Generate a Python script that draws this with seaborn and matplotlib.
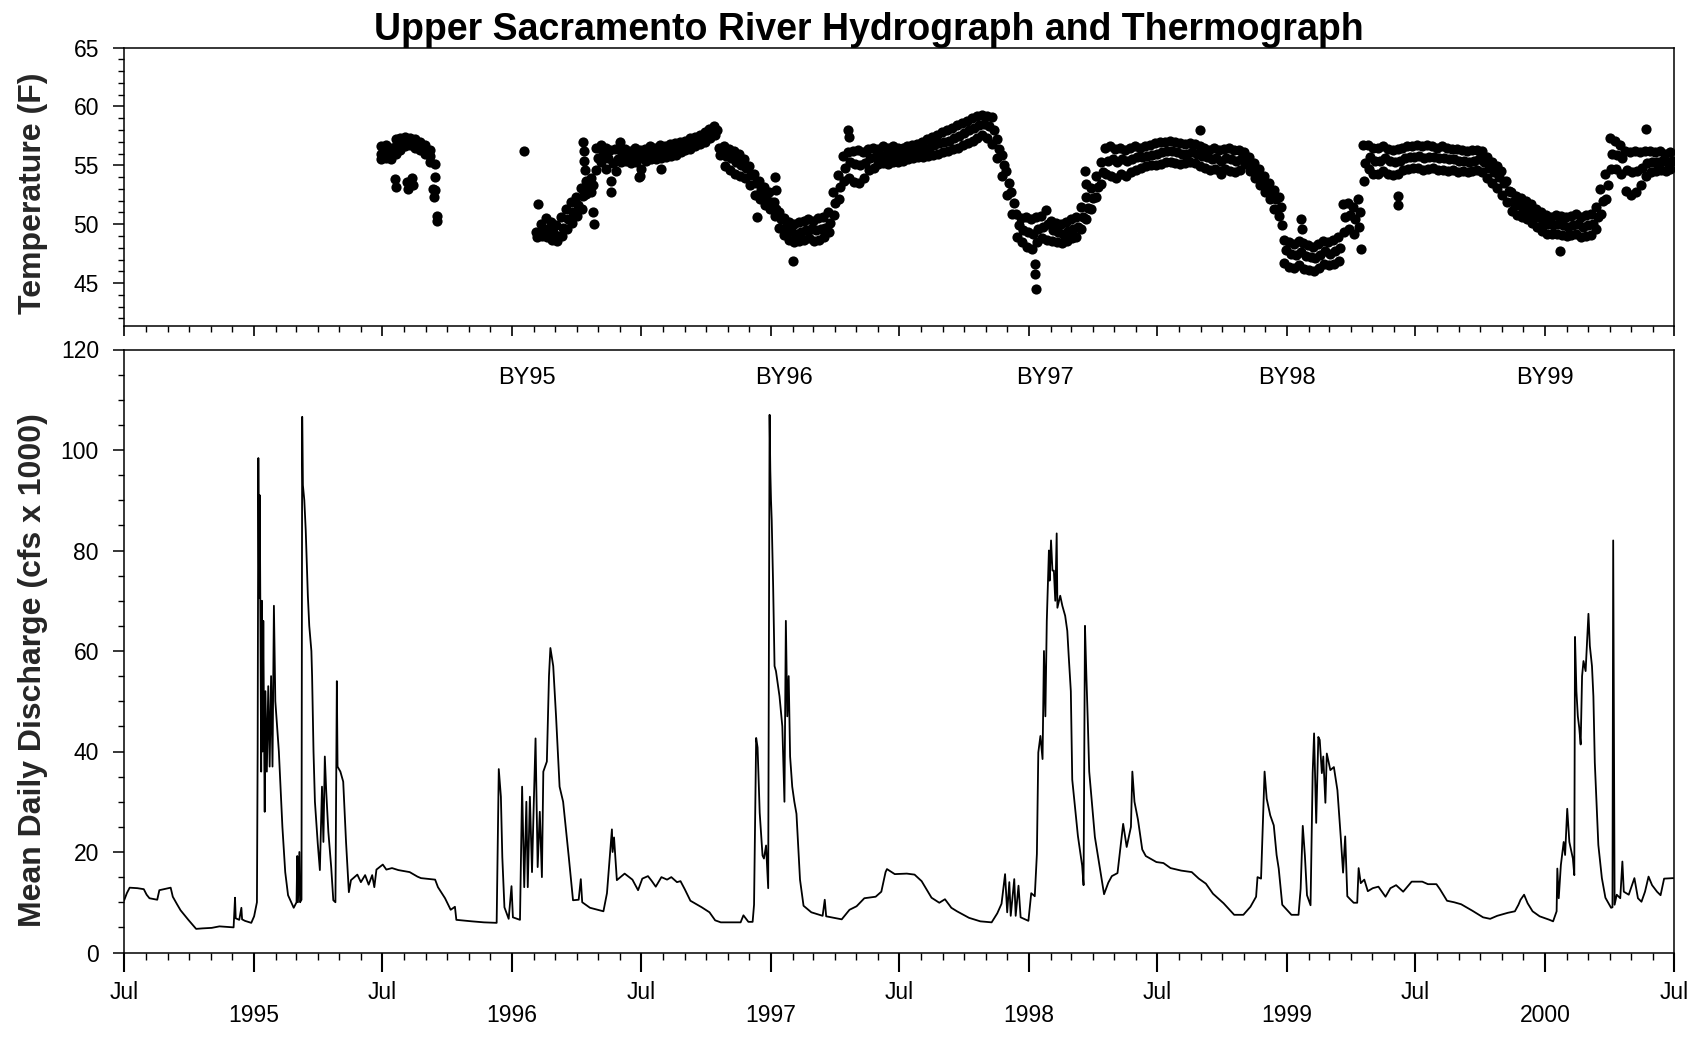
import matplotlib
matplotlib.use("Agg")
import matplotlib.pyplot as plt
import matplotlib.dates as mdates
import matplotlib.ticker as mticker
import pandas as pd
import seaborn as sns

# ---------------------------------------------------------------- data
# Mean daily discharge (cfs x 1000): vertices read off the hydrograph, by water year
q1995_dates = ["1994-07-01", "1994-07-05", "1994-07-09", "1994-07-20", "1994-07-29", "1994-08-02",
               "1994-08-06", "1994-08-17", "1994-08-20", "1994-09-05", "1994-09-08", "1994-09-14",
               "1994-09-19", "1994-09-30", "1994-10-11", "1994-10-20", "1994-11-02", "1994-11-13",
               "1994-11-24", "1994-12-03", "1994-12-05", "1994-12-06", "1994-12-11", "1994-12-14",
               "1994-12-15", "1994-12-19", "1994-12-28", "1995-01-01", "1995-01-05", "1995-01-06",
               "1995-01-07", "1995-01-08", "1995-01-09", "1995-01-10", "1995-01-11", "1995-01-12",
               "1995-01-13", "1995-01-14", "1995-01-15", "1995-01-16", "1995-01-17", "1995-01-19",
               "1995-01-21", "1995-01-23", "1995-01-25", "1995-01-27", "1995-01-29", "1995-01-31",
               "1995-02-03", "1995-02-05", "1995-02-10", "1995-02-14", "1995-02-18", "1995-02-26",
               "1995-03-02", "1995-03-03", "1995-03-04", "1995-03-06", "1995-03-07", "1995-03-09",
               "1995-03-10", "1995-03-11", "1995-03-13", "1995-03-15", "1995-03-18", "1995-03-20",
               "1995-03-23", "1995-03-24", "1995-03-26", "1995-03-28", "1995-04-01", "1995-04-04",
               "1995-04-07", "1995-04-09", "1995-04-11", "1995-04-13", "1995-04-16", "1995-04-20",
               "1995-04-23", "1995-04-26", "1995-04-28", "1995-04-29", "1995-05-03", "1995-05-07",
               "1995-05-11", "1995-05-15", "1995-05-18", "1995-05-27", "1995-06-01", "1995-06-07",
               "1995-06-12", "1995-06-17", "1995-06-20", "1995-06-23"]
q1995_vals = [10.3, 11.8, 12.9, 12.8, 12.6, 11.5, 10.8, 10.5, 12.4, 12.9, 11.1, 9.6,
              8.4, 6.5, 4.7, 4.8, 4.9, 5.2, 5.1, 5.0, 10.9, 6.8, 6.5, 8.9,
              6.6, 6.3, 5.9, 7.2, 10.0, 40.0, 98.4, 70.5, 91.0, 62.0, 36.0, 70.0,
              40.0, 66.0, 45.0, 28.0, 52.0, 36.0, 53.0, 37.0, 55.0, 37.0, 69.0, 50.0,
              44.0, 40.0, 25.0, 16.0, 11.4, 8.9, 10.0, 19.2, 10.0, 20.0, 10.0, 10.5,
              106.6, 93.0, 90.0, 84.0, 71.0, 65.0, 60.0, 55.0, 40.0, 30.0, 21.7, 16.4,
              33.0, 22.0, 39.0, 32.0, 24.0, 17.0, 10.4, 10.0, 54.0, 37.0, 36.0, 34.0,
              22.0, 12.0, 14.4, 15.5, 14.0, 15.4, 13.5, 15.4, 13.0, 16.5]

q1996_dates = ["1995-07-02", "1995-07-07", "1995-07-15", "1995-07-24", "1995-08-09", "1995-08-20",
               "1995-08-25", "1995-09-14", "1995-09-18", "1995-09-28", "1995-10-06", "1995-10-12",
               "1995-10-14", "1995-11-05", "1995-11-22", "1995-12-10", "1995-12-13", "1995-12-16",
               "1995-12-18", "1995-12-21", "1995-12-27", "1995-12-31", "1996-01-02", "1996-01-12",
               "1996-01-15", "1996-01-18", "1996-01-21", "1996-01-23", "1996-01-26", "1996-01-29",
               "1996-01-31", "1996-02-03", "1996-02-06", "1996-02-09", "1996-02-12", "1996-02-14",
               "1996-02-19", "1996-02-22", "1996-02-24", "1996-02-28", "1996-03-03", "1996-03-08",
               "1996-03-13", "1996-03-21", "1996-03-27", "1996-04-04", "1996-04-07", "1996-04-09",
               "1996-04-20", "1996-05-09", "1996-05-14", "1996-05-21", "1996-05-22", "1996-05-24",
               "1996-05-28", "1996-06-08", "1996-06-19", "1996-06-27"]
q1996_vals = [17.5, 16.5, 16.8, 16.4, 16.0, 15.1, 14.8, 14.5, 13.0, 10.8, 8.5, 9.1,
              6.5, 6.2, 6.0, 5.9, 36.5, 31.0, 19.0, 9.0, 6.7, 13.2, 7.0, 6.5,
              33.0, 13.0, 30.0, 13.0, 31.0, 16.0, 27.0, 42.6, 17.0, 28.0, 15.0, 36.0,
              38.0, 55.0, 60.6, 57.0, 47.0, 33.0, 30.0, 19.0, 10.4, 10.5, 14.6, 10.0,
              8.9, 8.2, 11.8, 24.5, 20.0, 22.9, 14.4, 15.7, 14.5, 12.4]

q1997_dates = ["1996-07-03", "1996-07-11", "1996-07-16", "1996-07-22", "1996-07-30", "1996-08-07",
               "1996-08-13", "1996-08-21", "1996-08-26", "1996-09-01", "1996-09-09", "1996-09-25",
               "1996-10-06", "1996-10-14", "1996-10-22", "1996-11-19", "1996-11-23", "1996-11-30",
               "1996-12-06", "1996-12-08", "1996-12-11", "1996-12-13", "1996-12-16", "1996-12-20",
               "1996-12-22", "1996-12-25", "1996-12-28", "1996-12-30", "1996-12-31", "1997-01-01",
               "1997-01-02", "1997-01-04", "1997-01-06", "1997-01-08", "1997-01-13", "1997-01-17",
               "1997-01-20", "1997-01-22", "1997-01-24", "1997-01-26", "1997-01-28", "1997-01-31",
               "1997-02-03", "1997-02-06", "1997-02-11", "1997-02-16", "1997-02-27", "1997-03-15",
               "1997-03-18", "1997-03-20", "1997-04-11", "1997-04-22", "1997-05-02", "1997-05-13",
               "1997-05-29", "1997-06-06", "1997-06-12", "1997-06-14", "1997-06-25"]
q1997_vals = [14.7, 15.2, 14.3, 13.1, 15.0, 14.5, 15.0, 14.0, 14.2, 12.6, 10.3, 9.0,
              8.0, 6.4, 6.0, 6.0, 7.4, 6.1, 6.1, 9.5, 42.7, 40.8, 27.8, 19.3,
              18.7, 21.3, 12.8, 107.0, 96.0, 90.0, 86.0, 73.0, 57.0, 56.0, 51.0, 45.0,
              30.0, 66.0, 47.0, 55.0, 39.0, 33.0, 30.0, 27.6, 14.5, 9.3, 8.0, 7.3,
              10.5, 7.2, 6.6, 8.5, 9.2, 10.8, 11.1, 12.1, 16.0, 16.6, 15.6]

q1998_dates = ["1997-07-12", "1997-07-23", "1997-08-02", "1997-08-16", "1997-08-27", "1997-09-04",
               "1997-09-13", "1997-09-21", "1997-10-08", "1997-10-24", "1997-11-09", "1997-11-17",
               "1997-11-23", "1997-11-28", "1997-12-01", "1997-12-04", "1997-12-06", "1997-12-11",
               "1997-12-13", "1997-12-17", "1997-12-20", "1997-12-31", "1998-01-04", "1998-01-09",
               "1998-01-12", "1998-01-14", "1998-01-17", "1998-01-20", "1998-01-22", "1998-01-24",
               "1998-01-26", "1998-01-29", "1998-01-30", "1998-02-01", "1998-02-03", "1998-02-05",
               "1998-02-07", "1998-02-09", "1998-02-10", "1998-02-14", "1998-02-17", "1998-02-21",
               "1998-02-24", "1998-02-26", "1998-03-01", "1998-03-03", "1998-03-11", "1998-03-17",
               "1998-03-19", "1998-03-21", "1998-03-23", "1998-03-25", "1998-03-27", "1998-04-04",
               "1998-04-12", "1998-04-17", "1998-04-23", "1998-04-28", "1998-05-06", "1998-05-14",
               "1998-05-19", "1998-05-25", "1998-05-27", "1998-05-30", "1998-06-04", "1998-06-10",
               "1998-06-15", "1998-06-30"]
q1998_vals = [15.7, 15.5, 14.2, 10.9, 9.9, 10.6, 8.9, 8.2, 6.9, 6.2, 6.0, 7.8,
              9.7, 15.6, 8.0, 14.0, 7.3, 14.6, 7.3, 13.3, 7.0, 6.3, 11.8, 11.2,
              19.6, 39.8, 43.1, 38.5, 60.0, 47.0, 66.0, 80.0, 74.0, 82.0, 76.0, 76.0,
              70.0, 83.4, 68.6, 71.0, 69.0, 67.0, 64.0, 59.0, 52.0, 34.4, 23.2, 17.3,
              13.4, 65.0, 55.0, 46.0, 36.0, 23.0, 16.0, 11.6, 13.9, 15.2, 15.8, 25.6,
              21.0, 25.0, 36.0, 30.0, 26.4, 20.5, 19.2, 18.0]

q1999_dates = ["1998-07-10", "1998-07-20", "1998-08-04", "1998-08-19", "1998-08-29", "1998-09-08",
               "1998-09-18", "1998-10-03", "1998-10-18", "1998-10-31", "1998-11-10", "1998-11-18",
               "1998-11-20", "1998-11-25", "1998-11-30", "1998-12-03", "1998-12-05", "1998-12-08",
               "1998-12-13", "1998-12-17", "1998-12-20", "1998-12-25", "1999-01-07", "1999-01-17",
               "1999-01-20", "1999-01-23", "1999-01-26", "1999-01-29", "1999-02-03", "1999-02-06",
               "1999-02-08", "1999-02-11", "1999-02-14", "1999-02-16", "1999-02-19", "1999-02-21",
               "1999-02-24", "1999-02-26", "1999-03-03", "1999-03-08", "1999-03-13", "1999-03-18",
               "1999-03-21", "1999-03-24", "1999-03-27", "1999-03-31", "1999-04-05", "1999-04-10",
               "1999-04-12", "1999-04-15", "1999-04-20", "1999-04-25", "1999-05-02", "1999-05-10",
               "1999-05-20", "1999-05-27", "1999-06-04", "1999-06-14", "1999-06-26"]
q1999_vals = [17.8, 16.8, 16.3, 16.0, 14.7, 13.7, 11.7, 9.8, 7.5, 7.5, 9.1, 11.1,
              15.0, 14.7, 36.0, 30.6, 29.3, 27.3, 25.3, 19.4, 16.7, 9.5, 7.5, 7.5,
              12.7, 25.2, 19.3, 11.4, 9.4, 35.7, 43.6, 25.8, 42.9, 42.3, 35.7, 39.0,
              29.8, 39.6, 36.3, 36.9, 32.3, 22.4, 15.9, 23.1, 11.2, 10.6, 9.9, 9.9,
              16.8, 13.8, 14.5, 12.2, 12.8, 13.1, 11.1, 12.8, 13.4, 12.1, 14.1]

q2000_dates = ["1999-07-11", "1999-07-19", "1999-07-31", "1999-08-05", "1999-08-15", "1999-08-25",
               "1999-09-04", "1999-09-20", "1999-10-05", "1999-10-15", "1999-10-25", "1999-11-09",
               "1999-11-19", "1999-11-24", "1999-11-27", "1999-12-02", "1999-12-07", "1999-12-14",
               "1999-12-24", "2000-01-07", "2000-01-12", "2000-01-17", "2000-01-18", "2000-01-20",
               "2000-01-23", "2000-01-27", "2000-01-29", "2000-02-01", "2000-02-04", "2000-02-06",
               "2000-02-09", "2000-02-11", "2000-02-12", "2000-02-14", "2000-02-16", "2000-02-18",
               "2000-02-20", "2000-02-22", "2000-02-24", "2000-02-27", "2000-03-02", "2000-03-04",
               "2000-03-07", "2000-03-09", "2000-03-11", "2000-03-16", "2000-03-21", "2000-03-26",
               "2000-04-03", "2000-04-05", "2000-04-06", "2000-04-08", "2000-04-11", "2000-04-16",
               "2000-04-19", "2000-04-21", "2000-04-28", "2000-05-06", "2000-05-11", "2000-05-16",
               "2000-05-21", "2000-05-26", "2000-05-31", "2000-06-07", "2000-06-12", "2000-06-17",
               "2000-06-30"]
q2000_vals = [14.1, 13.6, 13.6, 12.6, 10.3, 10.0, 9.6, 8.3, 7.0, 6.7, 7.3, 7.9,
              8.2, 9.5, 10.5, 11.5, 9.8, 8.2, 7.2, 6.5, 6.2, 8.2, 16.7, 10.8,
              17.4, 22.0, 19.4, 28.6, 22.0, 20.7, 18.7, 15.4, 62.8, 52.0, 47.0, 44.7,
              41.4, 55.0, 58.0, 56.0, 67.4, 61.0, 57.0, 51.0, 37.8, 21.4, 14.8, 10.9,
              8.9, 9.0, 82.0, 9.5, 11.5, 10.8, 18.1, 12.1, 11.5, 14.8, 10.8, 10.1,
              12.1, 15.1, 13.4, 12.1, 11.4, 14.7, 14.8]

# Water temperature (F): weekly upper / middle / lower dot rows of the band
t1995_start = "1995-06-29"
t1995_hi = [56.6, 56.7, 56.5, 57.2, 57.3, 57.4, 57.3, 57.2, 57.0, 56.7, 56.3, 55.1]
t1995_mid = [56.0, 56.2, 56.0, 56.6, 56.8, 57.0, 57.0, 56.8, 56.7, 56.4, 55.8, 54.0]
t1995_lo = [55.5, 55.6, 55.5, 56.0, 56.3, 56.6, 56.7, 56.5, 56.3, 56.0, 55.3, 52.9]

t_hi_start = "1996-02-04"
t_mid_start = "1996-02-07"
t_lo_start = "1996-02-05"
t_hi = [49.3, 50.0, 50.5, 50.2, 49.9, 50.6, 51.3, 51.9, 52.3, 53.1,
        53.7, 53.9, 56.5, 56.7, 56.5, 56.3, 56.4, 56.3, 56.4, 56.2,
        56.5, 56.3, 56.4, 56.6, 56.5, 56.7, 56.6, 56.8, 56.9, 57.0,
        57.1, 57.3, 57.4, 57.6, 57.8, 58.1, 58.3, 56.5, 56.6, 56.4,
        56.2, 56.0, 55.5, 54.9, 54.3, 53.7, 53.2, 52.7, 51.9, 51.0,
        50.5, 50.2, 50.0, 50.2, 50.3, 50.4, 50.3, 50.5, 50.6, 51.0,
        52.7, 54.2, 55.8, 56.1, 56.2, 56.3, 56.1, 56.4, 56.5, 56.4,
        56.6, 56.5, 56.6, 56.5, 56.5, 56.6, 56.7, 56.8, 57.0, 57.2,
        57.4, 57.6, 57.8, 58.0, 58.2, 58.4, 58.6, 58.8, 59.0, 59.2,
        59.3, 59.2, 59.1, 57.2, 55.9, 54.5, 52.7, 50.9, 50.5, 50.6,
        50.4, 50.6, 50.7, 51.2, 50.3, 50.1, 50.0, 50.2, 50.4, 50.6,
        51.5, 52.3, 53.1, 54.1, 55.3, 56.5, 56.6, 56.4, 56.5, 56.3,
        56.5, 56.6, 56.5, 56.6, 56.7, 56.9, 57.0, 57.0, 57.1, 57.0,
        56.9, 56.8, 56.9, 56.8, 56.6, 56.5, 56.3, 56.5, 56.3, 56.4,
        56.5, 56.3, 56.3, 56.1, 55.7, 55.2, 54.7, 54.1, 53.5, 52.9,
        52.3, 48.7, 48.5, 48.3, 48.6, 48.4, 48.2, 48.1, 48.3, 48.6,
        48.5, 48.7, 48.9, 51.7, 51.8, 51.5, 52.1, 56.7, 56.7, 56.5,
        56.5, 56.6, 56.4, 56.3, 56.4, 56.5, 56.6, 56.6, 56.7, 56.6,
        56.7, 56.6, 56.5, 56.6, 56.5, 56.4, 56.4, 56.3, 56.2, 56.3,
        56.3, 56.2, 55.7, 55.3, 54.9, 54.5, 53.7, 52.7, 52.4, 52.2,
        52.0, 51.7, 51.3, 51.0, 50.8, 50.6, 50.8, 50.7, 50.6, 50.7,
        50.9, 50.6, 50.8, 50.9, 51.5, 53.0, 54.3, 57.3, 57.1, 56.7,
        56.2, 56.1, 56.2, 56.1, 56.2, 56.2, 56.1, 56.2, 56.0, 56.1]
t_mid = [49.1, 49.4, 49.6, 49.3, 49.0, 49.7, 50.4, 51.0, 51.6, 52.4,
         53.2, 53.3, 55.6, 56.0, 55.6, 55.2, 55.5, 55.8, 55.9, 55.7,
         55.9, 55.6, 55.9, 56.0, 56.0, 56.1, 56.2, 56.3, 56.4, 56.5,
         56.7, 56.8, 57.0, 57.2, 57.4, 57.7, 58.0, 56.2, 55.8, 55.6,
         55.3, 55.0, 54.8, 54.2, 53.5, 52.9, 52.4, 51.9, 51.3, 50.4,
         49.8, 49.4, 49.2, 49.3, 49.5, 49.6, 49.5, 49.6, 49.7, 50.1,
         51.8, 53.2, 54.8, 55.3, 55.1, 55.0, 55.2, 55.6, 55.7, 55.8,
         55.9, 55.8, 56.0, 55.9, 56.0, 56.1, 56.2, 56.3, 56.4, 56.5,
         56.7, 56.9, 57.0, 57.1, 57.3, 57.5, 57.7, 58.0, 58.2, 58.4,
         58.5, 58.3, 58.0, 56.4, 55.0, 53.5, 51.8, 49.9, 49.5, 49.3,
         49.2, 49.6, 49.8, 50.0, 49.5, 49.3, 49.2, 49.4, 49.6, 49.8,
         50.6, 51.4, 52.2, 53.2, 54.4, 55.4, 55.5, 55.3, 55.5, 55.4,
         55.5, 55.7, 55.7, 55.8, 55.9, 56.0, 56.1, 56.2, 56.2, 56.1,
         56.0, 56.0, 56.1, 56.0, 55.8, 55.7, 55.5, 55.6, 55.4, 55.6,
         55.5, 55.4, 55.5, 55.6, 55.1, 54.6, 54.0, 53.4, 52.8, 52.1,
         51.5, 47.8, 47.5, 47.4, 47.6, 47.3, 47.2, 47.1, 47.4, 47.7,
         47.5, 47.7, 48.0, 50.6, 50.8, 50.4, 51.0, 55.2, 55.7, 55.4,
         55.4, 55.6, 55.4, 55.3, 55.4, 55.6, 55.7, 55.7, 55.8, 55.6,
         55.7, 55.7, 55.6, 55.6, 55.5, 55.5, 55.4, 55.4, 55.3, 55.4,
         55.5, 55.3, 54.8, 54.4, 54.0, 53.5, 52.8, 51.9, 51.6, 51.4,
         51.2, 50.9, 50.6, 50.2, 50.0, 49.9, 50.0, 49.9, 49.8, 49.9,
         50.0, 49.8, 49.9, 50.0, 50.6, 52.0, 53.3, 56.0, 55.9, 55.6,
         54.6, 54.4, 54.5, 54.8, 55.2, 55.3, 55.3, 55.4, 55.3, 55.4]
t_lo = [48.9, 49.0, 48.9, 48.7, 48.6, 49.0, 49.6, 50.1, 50.7, 51.3,
        52.6, 52.7, 54.6, 55.3, 54.7, 53.7, 54.5, 55.3, 55.4, 55.2,
        55.3, 54.7, 55.4, 55.5, 55.5, 55.6, 55.7, 55.8, 55.9, 56.1,
        56.3, 56.4, 56.6, 56.8, 57.0, 57.3, 57.6, 55.9, 54.9, 54.6,
        54.3, 54.1, 53.9, 53.3, 52.5, 52.1, 51.6, 51.3, 50.7, 49.7,
        49.1, 48.7, 48.5, 48.6, 48.7, 48.8, 48.6, 48.7, 48.9, 49.3,
        50.8, 52.1, 53.7, 53.9, 53.6, 53.5, 53.9, 54.6, 54.8, 55.1,
        55.2, 55.1, 55.3, 55.3, 55.4, 55.5, 55.6, 55.7, 55.7, 55.8,
        55.9, 56.0, 56.1, 56.2, 56.4, 56.5, 56.7, 56.9, 57.1, 57.3,
        57.6, 57.3, 56.8, 55.6, 54.1, 52.5, 50.9, 48.9, 48.5, 48.1,
        47.9, 48.5, 48.8, 48.7, 48.6, 48.5, 48.4, 48.6, 48.8, 48.9,
        49.6, 50.4, 51.3, 52.3, 53.4, 54.3, 54.1, 53.9, 54.3, 54.1,
        54.4, 54.6, 54.8, 54.9, 55.0, 55.0, 55.1, 55.3, 55.3, 55.2,
        55.1, 55.2, 55.3, 55.2, 54.9, 54.8, 54.6, 54.7, 54.5, 54.7,
        54.5, 54.4, 54.6, 55.1, 54.5, 53.9, 53.3, 52.7, 52.1, 51.3,
        50.7, 46.7, 46.4, 46.3, 46.5, 46.2, 46.1, 46.0, 46.3, 46.6,
        46.5, 46.6, 46.9, 49.3, 49.6, 49.2, 49.8, 53.7, 54.7, 54.3,
        54.3, 54.5, 54.3, 54.2, 54.3, 54.6, 54.7, 54.8, 54.8, 54.6,
        54.7, 54.8, 54.6, 54.6, 54.5, 54.6, 54.4, 54.5, 54.4, 54.5,
        54.6, 54.4, 53.9, 53.5, 53.1, 52.5, 51.9, 51.1, 50.8, 50.6,
        50.4, 50.1, 49.8, 49.4, 49.2, 49.2, 49.2, 49.1, 49.0, 49.1,
        49.2, 48.9, 49.0, 49.1, 49.6, 50.9, 52.1, 54.7, 54.7, 54.3,
        52.8, 52.5, 52.7, 53.3, 54.1, 54.4, 54.5, 54.6, 54.5, 54.7]

# isolated temperature readings outside the band
t_out_dates = ["1995-07-19", "1995-07-21", "1995-08-05", "1995-08-07", "1995-08-12", "1995-08-14",
               "1995-09-11", "1995-09-13", "1995-09-16", "1995-09-17", "1996-01-18", "1996-02-06",
               "1996-04-10", "1996-04-11", "1996-04-12", "1996-04-13", "1996-04-24", "1996-04-25",
               "1996-05-20", "1996-06-01", "1996-06-28", "1996-06-30", "1996-07-30", "1996-12-12",
               "1997-01-07", "1997-01-08", "1997-02-01", "1997-04-20", "1997-04-21", "1998-01-09",
               "1998-01-10", "1998-01-11", "1998-03-21", "1998-03-22", "1998-08-30", "1998-09-30",
               "1998-12-24", "1999-01-21", "1999-01-22", "1999-04-15", "1999-06-06", "1999-06-07",
               "2000-01-22", "2000-05-22"]
t_out_vals = [53.8, 53.2, 53.6, 53.0, 53.9, 53.3, 53.0, 52.3, 50.7, 50.3, 56.2, 51.7,
              57.0, 56.2, 55.4, 54.6, 51.0, 50.0, 52.7, 57.0, 54.0, 54.1, 54.7, 50.6,
              54.0, 52.9, 46.9, 58.0, 57.4, 46.6, 45.8, 44.5, 54.5, 53.4, 58.0, 54.3,
              49.9, 50.4, 49.6, 47.9, 52.4, 51.6, 47.7, 58.1]

# brood-year labels
by_labels = ["BY95", "BY96", "BY97", "BY98", "BY99"]
by_dates = ["1996-01-22", "1997-01-19", "1998-01-24", "1999-01-01", "2000-01-01"]
by_level = 114.3

title = "Upper Sacramento River Hydrograph and Thermograph"

# ---------------------------------------------------------------- frames
q_df = pd.concat([
    pd.DataFrame({"date": pd.to_datetime(d), "flow": v})
    for d, v in [(q1995_dates, q1995_vals), (q1996_dates, q1996_vals), (q1997_dates, q1997_vals),
                 (q1998_dates, q1998_vals), (q1999_dates, q1999_vals), (q2000_dates, q2000_vals)]
], ignore_index=True)

t_frames = []
for start, vals in [(t1995_start, t1995_hi), (t1995_start, t1995_mid), (t1995_start, t1995_lo),
                    (t_hi_start, t_hi), (t_mid_start, t_mid), (t_lo_start, t_lo)]:
    dates = pd.date_range(start, periods=len(vals), freq="7D")
    t_frames.append(pd.DataFrame({"date": dates, "temp": vals}))
t_frames.append(pd.DataFrame({"date": pd.to_datetime(t_out_dates), "temp": t_out_vals}))
t_df = pd.concat(t_frames, ignore_index=True)

# ---------------------------------------------------------------- figure
sns.set_theme(style="ticks")
plt.rcParams["font.family"] = ["Liberation Sans", "DejaVu Sans"]
plt.rcParams["axes.edgecolor"] = "black"
plt.rcParams["xtick.color"] = "black"
plt.rcParams["ytick.color"] = "black"
plt.rcParams["text.color"] = "black"

W, H = 1706, 1041
fig = plt.figure(figsize=(W / 100, H / 100), dpi=100)
ax_t = fig.add_axes([124 / W, 1 - 325.5 / H, 1550 / W, 278 / H])
ax_q = fig.add_axes([124 / W, 1 - 952.5 / H, 1550 / W, 603 / H])

sns.scatterplot(data=t_df, x="date", y="temp", ax=ax_t, color="black", s=54,
                linewidth=0, legend=False)
sns.lineplot(data=q_df, x="date", y="flow", ax=ax_q, color="black", linewidth=1.3,
             estimator=None, sort=False, legend=False)

x0, x1 = pd.Timestamp("1994-07-01"), pd.Timestamp("2000-07-01")
for ax in (ax_t, ax_q):
    ax.set_xlim(x0, x1)
    ax.set_xlabel("")
    for sp in ax.spines.values():
        sp.set_visible(True)
        sp.set_linewidth(1.1)
        sp.set_color("black")
    ax.xaxis.set_major_locator(mdates.MonthLocator(bymonth=[1, 7]))
    ax.xaxis.set_minor_locator(mdates.MonthLocator())


def month_fmt(x, pos):
    d = mdates.num2date(x)
    return "Jul" if d.month == 7 else "\n%d" % d.year


ax_q.xaxis.set_major_formatter(mticker.FuncFormatter(month_fmt))
ax_q.tick_params(axis="x", which="major", direction="out", length=14, width=1.5, pad=6.5,
                 labelsize=16.5)
ax_q.tick_params(axis="x", which="minor", direction="out", length=5, width=1.0)
ax_t.tick_params(axis="x", which="major", direction="out", length=7, width=1.2,
                 labelbottom=False)
ax_t.tick_params(axis="x", which="minor", direction="out", length=4, width=1.0)

ax_t.set_ylim(41.4, 65)
ax_t.yaxis.set_major_locator(mticker.MultipleLocator(5))
ax_t.yaxis.set_minor_locator(mticker.MultipleLocator(1))
ax_q.set_ylim(0, 120)
ax_q.yaxis.set_major_locator(mticker.MultipleLocator(20))
ax_q.yaxis.set_minor_locator(mticker.MultipleLocator(5))
for ax in (ax_t, ax_q):
    ax.tick_params(axis="y", which="major", direction="out", length=8, width=1.1, pad=10,
                   labelsize=16.5)
    ax.tick_params(axis="y", which="minor", direction="out", length=4.5, width=1.0)

ax_t.set_ylabel("Temperature (F)", fontsize=23, fontweight="bold")
ax_t.yaxis.set_label_coords(-0.049, 0.475)
ax_q.set_ylabel("Mean Daily Discharge (cfs x 1000)", fontsize=23, fontweight="bold")
ax_q.yaxis.set_label_coords(-0.049, 0.469)

for lab, d in zip(by_labels, by_dates):
    ax_q.text(mdates.date2num(pd.Timestamp(d)), by_level, lab, ha="center", va="center",
              fontsize=17)

fig.text(869 / W, 1 - 40 / H, title, ha="center", va="baseline", fontsize=27,
         fontweight="bold")

fig.canvas.draw()
for lbl in ax_q.get_xticklabels():
    lbl.set_linespacing(1.0)

fig.savefig("out.png", dpi=100, facecolor="white")
